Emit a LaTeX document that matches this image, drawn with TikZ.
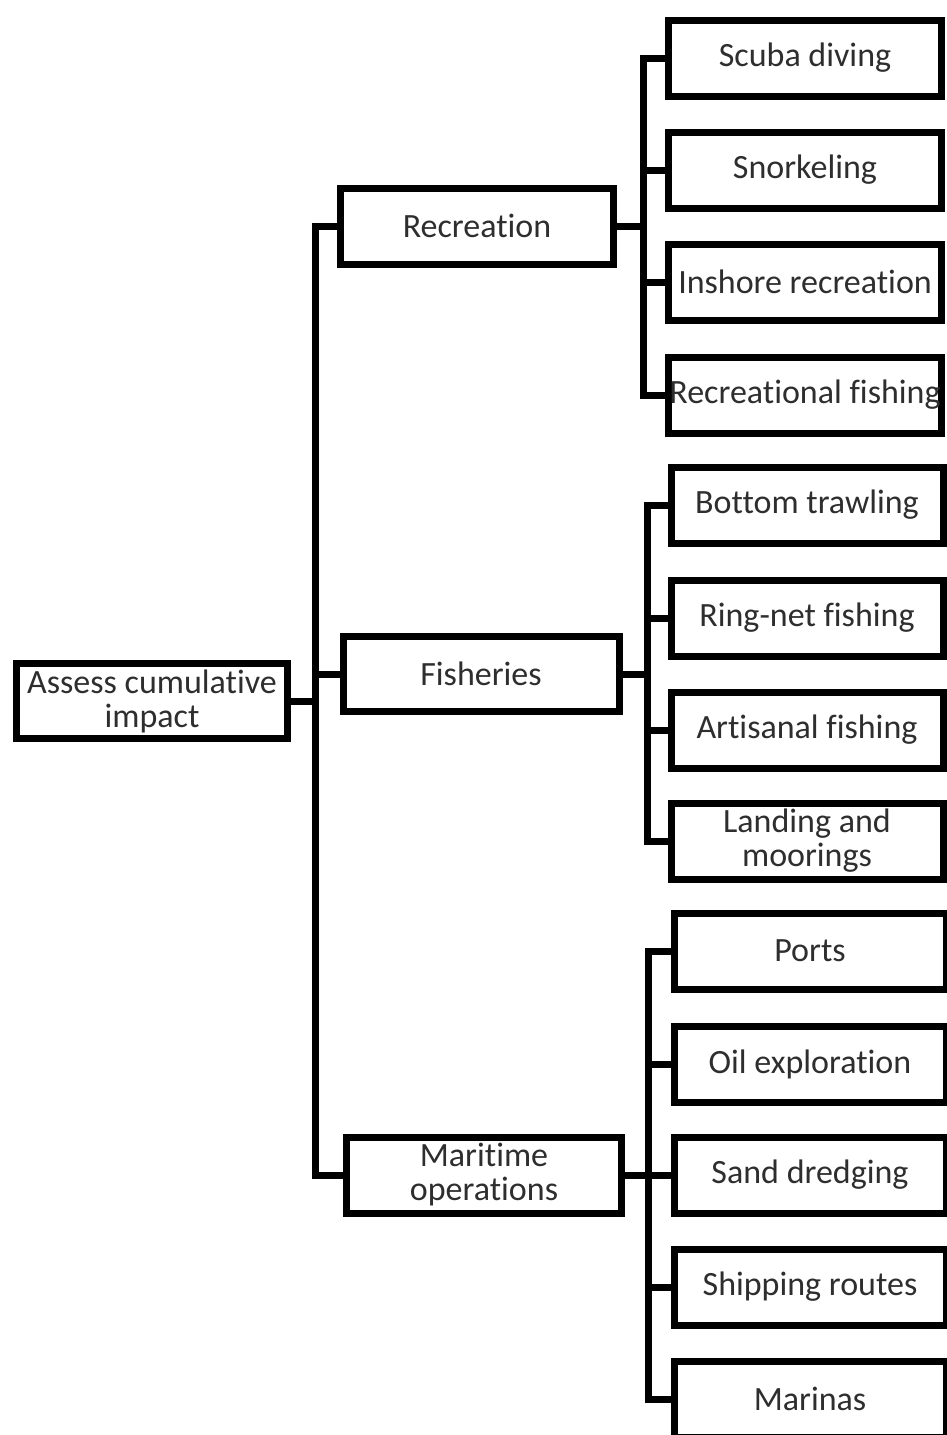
\documentclass[tikz,border=0pt]{standalone}
\usepackage{fontspec}
\setmainfont{Carlito}[Ligatures={NoCommon,NoRare,NoContextual}]
\begin{document}
\begin{tikzpicture}[x=1pt,y=-1pt,
  box/.style={draw=black, line width=7pt, fill=white, text=black!82,
    minimum width=273pt, minimum height=76pt, inner sep=0pt, align=center,
    font=\fontsize{34}{34}\selectfont},
  conn/.style={draw=black, line width=7pt}]
\useasboundingbox[fill=white] (0,0) rectangle (947,1435);
% coordinates of the spines
\coordinate (sM) at (315,0);
\coordinate (sR) at (643,0);
\coordinate (sF) at (647,0);
\coordinate (sO) at (648,0);
% root and level 1
\node[box, minimum width=271pt, minimum height=75pt] (root) at (152,701) {Assess cumulative\\impact};
\node[box] (rec) at (477,226) {Recreation};
\node[box, minimum width=276pt, minimum height=75pt] (fish) at (481,674) {Fisheries};
\node[box, minimum width=275pt] (mar) at (484,1175) {Maritime\\operations};
% recreation children
\node[box] (r1) at (805,58) {Scuba diving};
\node[box] (r2) at (805,170) {Snorkeling};
\node[box] (r3) at (805,282) {Inshore recreation};
\node[box] (r4) at (805,395) {Recreational fishing};
% fisheries children
\node[box, minimum width=272pt] (f1) at (807,505) {Bottom trawling};
\node[box, minimum width=272pt] (f2) at (807,618) {Ring-net fishing};
\node[box, minimum width=272pt] (f3) at (807,730) {Artisanal fishing};
\node[box, minimum width=272pt] (f4) at (807,841) {Landing and\\moorings};
% maritime children
\node[box, minimum width=272pt] (m1) at (810,951) {Ports};
\node[box, minimum width=272pt] (m2) at (810,1064) {Oil exploration};
\node[box, minimum width=272pt] (m3) at (810,1175) {Sand dredging};
\node[box, minimum width=272pt] (m4) at (810,1287) {Shipping routes};
\node[box, minimum width=272pt] (m5) at (810,1399) {Marinas};
% connectors: root to level 1
\foreach \c in {rec,fish,mar}
  \draw[conn] (root.east) -- (root.east -| sM) |- (\c.west);
% recreation
\foreach \c in {r1,r2,r3,r4}
  \draw[conn] (rec.east) -- (rec.east -| sR) |- (\c.west);
% fisheries
\foreach \c in {f1,f2,f3,f4}
  \draw[conn] (fish.east) -- (fish.east -| sF) |- (\c.west);
% maritime
\foreach \c in {m1,m2,m3,m4,m5}
  \draw[conn] (mar.east) -- (mar.east -| sO) |- (\c.west);
\end{tikzpicture}
\end{document}
